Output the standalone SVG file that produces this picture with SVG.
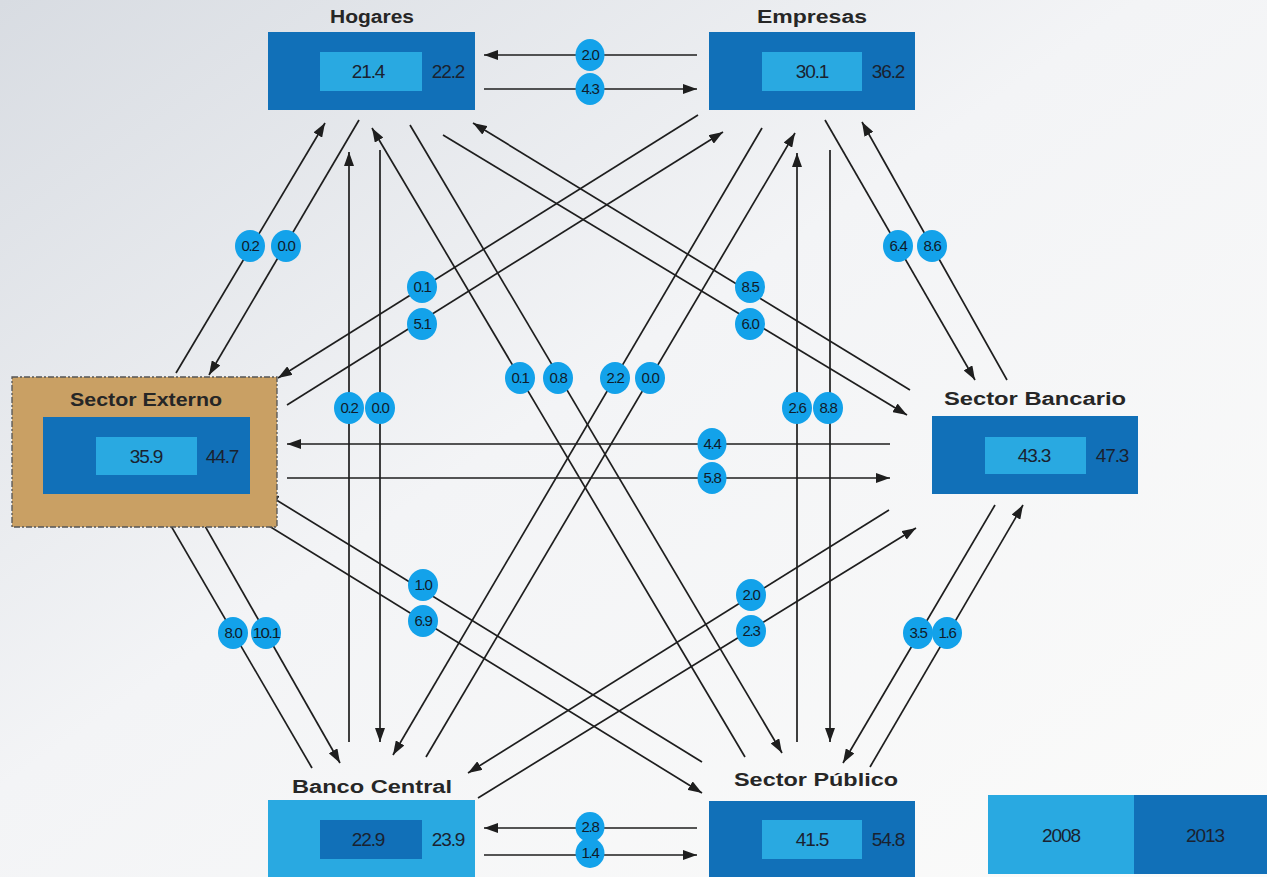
<svg xmlns="http://www.w3.org/2000/svg" width="1267" height="877" viewBox="0 0 1267 877">
<style>
.lbl{font-family:"Liberation Sans","DejaVu Sans",sans-serif;font-weight:bold;font-size:18px;fill:#262626;text-anchor:middle}
.val{font-family:"Liberation Sans","DejaVu Sans",sans-serif;font-size:19px;fill:#1a2230;text-anchor:middle;letter-spacing:-1.1px}
.dark{fill:#1170b8}
.light{fill:#29a9e1}
.ln{stroke:#1e1e1e;stroke-width:1.7;fill:none;marker-end:url(#ah)}
.bub{fill:#13a2ea}
.bt{font-family:"Liberation Sans","DejaVu Sans",sans-serif;font-size:15px;fill:#0f1c2a;text-anchor:middle;letter-spacing:-1.3px}
</style>
<defs>
<linearGradient id="bg" x1="0" y1="0" x2="1" y2="1">
<stop offset="0" stop-color="#d8dce2"/>
<stop offset="0.45" stop-color="#f3f4f6"/>
<stop offset="1" stop-color="#fbfbfa"/>
</linearGradient>
<marker id="ah" viewBox="0 0 14 10" refX="14" refY="5" markerWidth="14" markerHeight="10" markerUnits="userSpaceOnUse" orient="auto">
<path d="M0,0 L14,5 L0,10 z" fill="#1e1e1e"/>
</marker>
</defs>
<rect x="0" y="0" width="1267" height="877" fill="url(#bg)"/>

<g id="connectors">
<line class="ln" x1="697" y1="55" x2="484" y2="55"/>
<line class="ln" x1="484" y1="89" x2="697" y2="89"/>
<line class="ln" x1="890" y1="444" x2="287" y2="444"/>
<line class="ln" x1="287" y1="478" x2="890" y2="478"/>
<line class="ln" x1="697" y1="828" x2="484" y2="828"/>
<line class="ln" x1="484" y1="855" x2="697" y2="855"/>
<line class="ln" x1="176" y1="373" x2="325" y2="123"/>
<line class="ln" x1="359" y1="120" x2="209" y2="375"/>
<line class="ln" x1="349" y1="742" x2="349" y2="152"/>
<line class="ln" x1="380" y1="150" x2="380" y2="742"/>
<line class="ln" x1="745" y1="757" x2="372" y2="128"/>
<line class="ln" x1="410" y1="125" x2="782" y2="753"/>
<line class="ln" x1="910" y1="390" x2="473" y2="123"/>
<line class="ln" x1="443" y1="135" x2="907" y2="415"/>
<line class="ln" x1="698" y1="115" x2="278" y2="378"/>
<line class="ln" x1="287" y1="405" x2="723" y2="132"/>
<line class="ln" x1="762" y1="128" x2="393" y2="755"/>
<line class="ln" x1="426" y1="757" x2="795" y2="133"/>
<line class="ln" x1="825" y1="120" x2="975" y2="380"/>
<line class="ln" x1="1007" y1="380" x2="862" y2="122"/>
<line class="ln" x1="797" y1="742" x2="797" y2="153"/>
<line class="ln" x1="830" y1="150" x2="830" y2="742"/>
<line class="ln" x1="702" y1="762" x2="265" y2="493"/>
<line class="ln" x1="235" y1="505" x2="702" y2="793"/>
<line class="ln" x1="312" y1="768" x2="160" y2="507"/>
<line class="ln" x1="193" y1="505" x2="340" y2="763"/>
<line class="ln" x1="889" y1="510" x2="468" y2="773"/>
<line class="ln" x1="478" y1="798" x2="916" y2="528"/>
<line class="ln" x1="995" y1="505" x2="843" y2="763"/>
<line class="ln" x1="870" y1="767" x2="1023" y2="505"/>
</g>

<g id="flow-labels">
<ellipse class="bub" cx="590" cy="55" rx="14.5" ry="16"/><text class="bt" x="590" y="60">2.0</text>
<ellipse class="bub" cx="590" cy="89" rx="14.5" ry="16"/><text class="bt" x="590" y="94">4.3</text>
<ellipse class="bub" cx="712" cy="444" rx="14.5" ry="16"/><text class="bt" x="712" y="449">4.4</text>
<ellipse class="bub" cx="712" cy="478" rx="14.5" ry="16"/><text class="bt" x="712" y="483">5.8</text>
<ellipse class="bub" cx="590" cy="827" rx="14.5" ry="15"/><text class="bt" x="590" y="832">2.8</text>
<ellipse class="bub" cx="590" cy="853" rx="14.5" ry="15"/><text class="bt" x="590" y="858">1.4</text>
<ellipse class="bub" cx="250" cy="246" rx="15" ry="16"/><text class="bt" x="250" y="251">0.2</text>
<ellipse class="bub" cx="286" cy="246" rx="15" ry="16"/><text class="bt" x="286" y="251">0.0</text>
<ellipse class="bub" cx="349" cy="408" rx="15" ry="16"/><text class="bt" x="349" y="413">0.2</text>
<ellipse class="bub" cx="380" cy="408" rx="15" ry="16"/><text class="bt" x="380" y="413">0.0</text>
<ellipse class="bub" cx="520" cy="378" rx="15" ry="16"/><text class="bt" x="520" y="383">0.1</text>
<ellipse class="bub" cx="558" cy="378" rx="15" ry="16"/><text class="bt" x="558" y="383">0.8</text>
<ellipse class="bub" cx="750" cy="287" rx="15" ry="16"/><text class="bt" x="750" y="292">8.5</text>
<ellipse class="bub" cx="750" cy="324" rx="15" ry="16"/><text class="bt" x="750" y="329">6.0</text>
<ellipse class="bub" cx="422" cy="287" rx="15" ry="16"/><text class="bt" x="422" y="292">0.1</text>
<ellipse class="bub" cx="422" cy="324" rx="15" ry="16"/><text class="bt" x="422" y="329">5.1</text>
<ellipse class="bub" cx="615" cy="378" rx="15" ry="16"/><text class="bt" x="615" y="383">2.2</text>
<ellipse class="bub" cx="650" cy="378" rx="15" ry="16"/><text class="bt" x="650" y="383">0.0</text>
<ellipse class="bub" cx="898" cy="246" rx="15" ry="16"/><text class="bt" x="898" y="251">6.4</text>
<ellipse class="bub" cx="932" cy="246" rx="15" ry="16"/><text class="bt" x="932" y="251">8.6</text>
<ellipse class="bub" cx="797" cy="408" rx="15" ry="16"/><text class="bt" x="797" y="413">2.6</text>
<ellipse class="bub" cx="828" cy="408" rx="15" ry="16"/><text class="bt" x="828" y="413">8.8</text>
<ellipse class="bub" cx="423" cy="585" rx="15" ry="16"/><text class="bt" x="423" y="590">1.0</text>
<ellipse class="bub" cx="423" cy="621" rx="15" ry="16"/><text class="bt" x="423" y="626">6.9</text>
<ellipse class="bub" cx="233" cy="633" rx="15" ry="16"/><text class="bt" x="233" y="638">8.0</text>
<ellipse class="bub" cx="266" cy="633" rx="15" ry="16"/><text class="bt" x="266" y="638" textLength="27" lengthAdjust="spacingAndGlyphs">10.1</text>
<ellipse class="bub" cx="751" cy="595" rx="15" ry="16"/><text class="bt" x="751" y="600">2.0</text>
<ellipse class="bub" cx="751" cy="631" rx="15" ry="16"/><text class="bt" x="751" y="636">2.3</text>
<ellipse class="bub" cx="918" cy="633" rx="15" ry="16"/><text class="bt" x="918" y="638">3.5</text>
<ellipse class="bub" cx="947" cy="633" rx="15" ry="16"/><text class="bt" x="947" y="638">1.6</text>
</g>

<g id="hogares">
<text class="lbl" x="372" y="23" textLength="84" lengthAdjust="spacingAndGlyphs">Hogares</text>
<rect class="dark" x="268" y="32" width="207" height="78"/>
<rect class="light" x="320" y="52" width="102" height="39"/>
<text class="val" x="368" y="78">21.4</text>
<text class="val" x="448" y="78">22.2</text>
</g>

<g id="empresas">
<text class="lbl" x="812" y="23" textLength="110" lengthAdjust="spacingAndGlyphs">Empresas</text>
<rect class="dark" x="709" y="32" width="206" height="78"/>
<rect class="light" x="762" y="52" width="100" height="39"/>
<text class="val" x="812" y="78">30.1</text>
<text class="val" x="888" y="78">36.2</text>
</g>

<g id="sector-externo">
<rect x="12" y="377" width="265" height="150" fill="#c9a064" stroke="#555" stroke-width="1.3" stroke-dasharray="6,2,2,2"/>
<text class="lbl" x="146" y="406" textLength="152" lengthAdjust="spacingAndGlyphs">Sector Externo</text>
<rect class="dark" x="43" y="417" width="207" height="77"/>
<rect class="light" x="96" y="437" width="101" height="38"/>
<text class="val" x="146" y="463">35.9</text>
<text class="val" x="222" y="463">44.7</text>
</g>

<g id="sector-bancario">
<text class="lbl" x="1035" y="405" textLength="182" lengthAdjust="spacingAndGlyphs">Sector Bancario</text>
<rect class="dark" x="932" y="416" width="206" height="78"/>
<rect class="light" x="985" y="437" width="101" height="37"/>
<text class="val" x="1034" y="462">43.3</text>
<text class="val" x="1112" y="462">47.3</text>
</g>

<g id="banco-central">
<text class="lbl" x="372" y="793" textLength="160" lengthAdjust="spacingAndGlyphs">Banco Central</text>
<rect class="light" x="268" y="800" width="207" height="80"/>
<rect class="dark" x="320" y="820" width="102" height="39"/>
<text class="val" x="368" y="846">22.9</text>
<text class="val" x="448" y="846">23.9</text>
</g>

<g id="sector-publico">
<text class="lbl" x="816" y="786" textLength="164" lengthAdjust="spacingAndGlyphs">Sector Público</text>
<rect class="dark" x="709" y="801" width="206" height="80"/>
<rect class="light" x="762" y="820" width="100" height="39"/>
<text class="val" x="812" y="846">41.5</text>
<text class="val" x="888" y="846">54.8</text>
</g>

<g id="legend">
<rect class="light" x="988" y="795" width="146" height="79"/>
<rect class="dark" x="1134" y="795" width="133" height="79"/>
<text class="val" x="1061" y="842">2008</text>
<text class="val" x="1205" y="842">2013</text>
</g>
</svg>
